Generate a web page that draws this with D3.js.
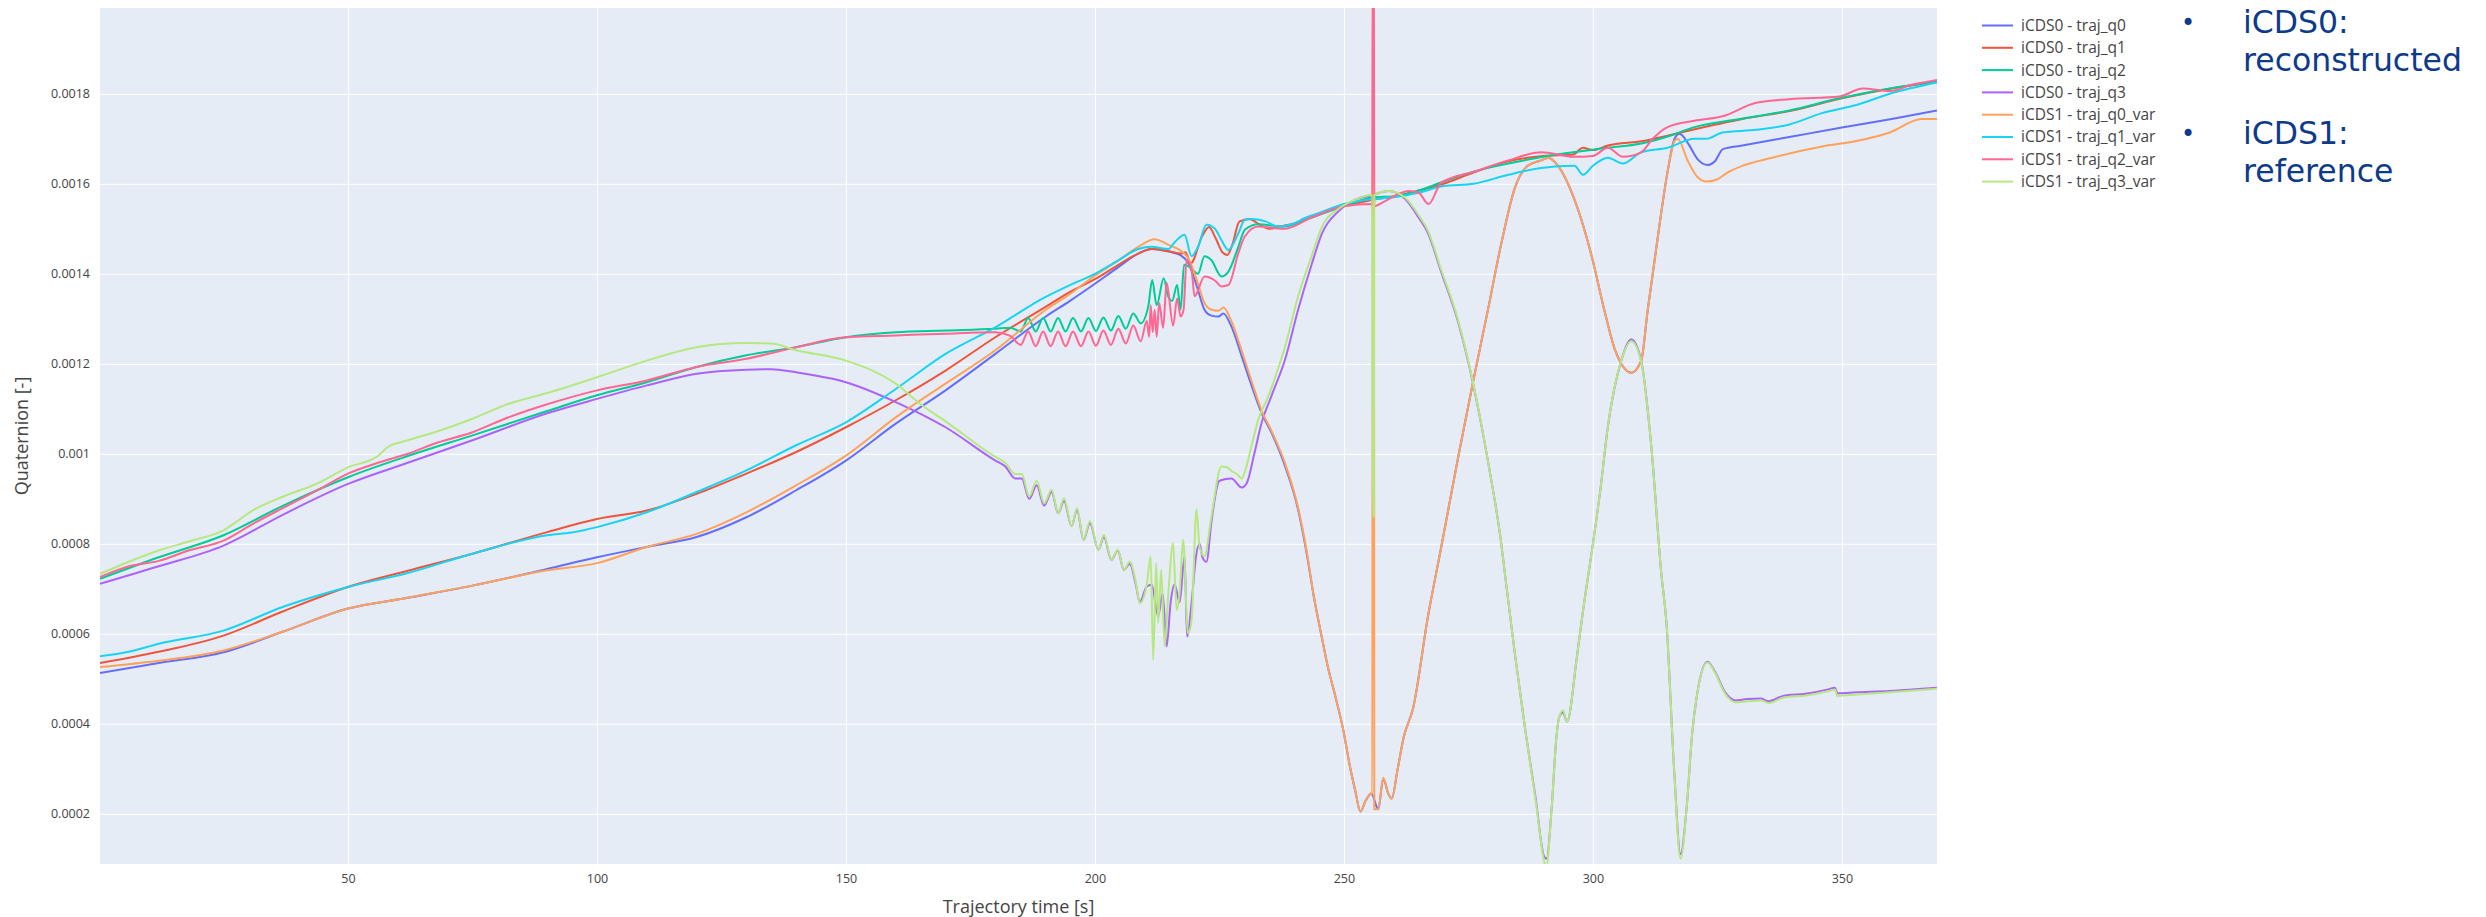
<!DOCTYPE html>
<html>
<head>
<meta charset="utf-8">
<script src="https://cdn.jsdelivr.net/npm/d3@7"></script>
<style>
  body { margin: 0; background: #fff; }
  #viz text { font-family: 'Open Sans', Verdana, sans-serif; }
</style>
</head>
<body>
<div id="viz"></div>
<script>
// [time s, quaternion value x 1e-4]
const q0 = [[0.2,5.13],[12,5.35],[25,5.59],[37,6.05],[50,6.56],[62,6.8],[75,7.07],[90,7.44],[100,7.7],[110,7.93],[120,8.15],[130,8.59],[140,9.19],[150,9.85],[160,10.67],[170,11.41],[180,12.22],[190,13.04],[195,13.4],[200,13.78],[204.7,14.15],[208.7,14.45],[211.4,14.55],[214.7,14.5],[217.4,14.4],[218.7,14.25],[220.7,13.64],[222,13.2],[223.4,13.07],[224.8,13.05],[225.8,13.12],[227.4,12.83],[229.5,12.16],[231.5,11.5],[233.5,10.9],[235.5,10.46],[238.2,9.72],[240.8,8.76],[242.5,7.8],[244,6.8],[245.6,5.9],[246.7,5.3],[248.3,4.6],[249.8,3.9],[251.3,3.0],[252.3,2.5],[253.3,2.05],[254.4,2.3],[255.5,2.45],[256.9,2.1],[257.9,2.78],[258.9,2.45],[259.6,2.34],[260.8,3.0],[262,3.7],[263.9,4.35],[266.9,6.4],[269.5,7.9],[272.9,9.9],[275.9,11.58],[278.9,13.19],[281.6,14.67],[284.3,15.9],[286.9,16.4],[289.6,16.52],[291,16.58],[293,16.4],[296.3,15.65],[299.7,14.42],[302.3,13.19],[304.4,12.32],[305.7,12.0],[307.7,11.8],[309.7,12.07],[311,13.19],[313,14.79],[315,16.27],[316.4,17.0],[317.4,17.11],[319.1,16.9],[321,16.55],[323.1,16.42],[324.5,16.5],[326.1,16.77],[330,16.85],[340,17.05],[350,17.25],[360,17.44],[369.1,17.63]];

const q1 = [[0.2,5.35],[12,5.6],[25,5.96],[37,6.5],[50,7.04],[62,7.4],[75,7.78],[90,8.26],[100,8.55],[110,8.74],[120,9.11],[130,9.56],[140,10.04],[150,10.59],[160,11.19],[170,11.85],[180,12.59],[190,13.26],[195,13.6],[200,13.88],[204.7,14.2],[208.7,14.45],[211.4,14.55],[214.7,14.5],[217.4,14.45],[218.2,14.48],[219.2,14.23],[221.6,14.85],[222.9,15.04],[224.2,14.8],[225.6,14.48],[226.6,14.42],[227.6,14.65],[229,15.16],[231,15.22],[233,15.1],[235,15.0],[237,15.05],[240,15.12],[243.5,15.25],[248,15.45],[252,15.55],[256,15.65],[260,15.72],[265,15.85],[270,16.0],[276,16.25],[283,16.5],[290,16.62],[296,16.65],[298,16.8],[300,16.75],[303,16.85],[310,16.95],[315,17.07],[320,17.2],[330,17.44],[340,17.63],[350,17.9],[360,18.12],[369.1,18.27]];

const q2 = [[0.2,7.22],[12,7.7],[25,8.19],[37,8.85],[50,9.48],[62,9.95],[75,10.41],[90,10.95],[100,11.3],[110,11.59],[120,11.93],[130,12.19],[140,12.37],[150,12.59],[160,12.7],[170,12.74],[180,12.78],[183,12.8],[185.1,12.72],[186.6,13.02],[188.1,12.72],[189.6,13.02],[191.1,12.72],[192.6,13.02],[194.1,12.72],[195.6,13.02],[197.2,12.72],[198.7,13.02],[200.2,12.73],[201.7,13.03],[203.2,12.74],[204.7,13.06],[206.2,12.78],[207.7,13.12],[209.2,12.9],[210.7,13.27],[211.5,13.86],[212.4,13.3],[213.8,13.9],[214.7,13.5],[215.5,13.4],[216.5,13.75],[217.2,13.2],[217.9,14.2],[218.9,14.16],[220.7,14.0],[222,14.39],[223.4,14.3],[225.4,13.94],[226.8,14.05],[228.8,14.6],[230.1,14.98],[232.8,15.1],[238,15.05],[243.5,15.25],[250,15.5],[256,15.7],[260,15.72],[265,15.85],[270,16.05],[276,16.27],[283,16.45],[290,16.6],[296,16.7],[303,16.8],[310,16.9],[315,17.05],[320.4,17.26],[329.5,17.44],[339.5,17.63],[349.5,17.9],[359.6,18.12],[369.1,18.27]];

const q3 = [[0.2,7.11],[12,7.5],[25,7.96],[37,8.65],[50,9.33],[62,9.8],[75,10.3],[90,10.9],[100,11.22],[110,11.52],[120,11.78],[130,11.87],[135,11.88],[140,11.81],[150,11.59],[160,11.15],[170,10.59],[180,9.85],[182,9.72],[184,9.45],[185.3,9.45],[186.8,9.0],[188.3,9.3],[189.8,8.85],[191.3,9.15],[192.6,8.68],[193.8,8.95],[195.3,8.39],[196.4,8.75],[197.7,8.09],[199,8.45],[200.7,7.87],[201.8,8.15],[203.3,7.64],[204.6,7.85],[205.8,7.42],[207,7.55],[208.2,7.1],[209,6.7],[210.4,7.05],[211.4,7.09],[212.7,6.39],[213.6,6.9],[214.4,5.72],[215.2,6.7],[216,7.1],[217,6.7],[218,7.72],[218.5,5.94],[219.5,6.8],[220.3,7.72],[221,8.0],[221.6,7.7],[222.4,7.6],[223.4,8.5],[225,9.4],[227.4,9.45],[229.5,9.25],[230.5,9.35],[232,10.0],[233.5,10.7],[235.5,11.3],[238.2,12.1],[240.8,13.2],[243.5,14.2],[245.6,14.9],[249,15.4],[252.3,15.65],[255.7,15.75],[259,15.84],[262.4,15.65],[265,15.25],[266.9,14.9],[269.5,14.05],[272.9,12.94],[275.9,11.58],[278.9,9.85],[281.6,8.0],[282.5,7.18],[284.4,5.5],[286.5,3.8],[288.5,2.35],[290.2,1.05],[290.7,1.0],[291.7,2.1],[292.7,3.74],[293.3,4.17],[294,4.25],[294.8,4.05],[296.8,5.5],[298,6.5],[300,8.0],[301.5,9.2],[303,10.6],[305.7,12.07],[307.7,12.54],[309.7,12.07],[311.7,10.2],[313.7,7.38],[314.8,6.2],[316.3,3.0],[317.6,1.1],[318.9,2.24],[319.9,3.74],[320.9,4.64],[323,5.38],[324.5,5.16],[326.5,4.71],[328.6,4.52],[331,4.55],[333.7,4.56],[335.2,4.5],[338.2,4.62],[342.8,4.67],[347.5,4.77],[348.6,4.8],[349.1,4.68],[352.9,4.7],[359.6,4.73],[369.1,4.8]];

const q0Var = [[0.2,5.26],[12,5.4],[25,5.63],[37,6.05],[50,6.56],[62,6.8],[75,7.07],[90,7.41],[100,7.57],[110,7.93],[120,8.22],[130,8.7],[140,9.3],[150,9.96],[160,10.81],[170,11.56],[180,12.3],[190,13.19],[195,13.55],[200,13.96],[204.7,14.3],[208.7,14.6],[212,14.77],[214.7,14.65],[217.4,14.5],[218.7,14.35],[220.7,13.78],[222,13.35],[223.4,13.2],[224.8,13.18],[225.8,13.25],[227.4,12.95],[229.5,12.28],[231.5,11.6],[233.5,10.95],[235.5,10.5],[238.2,9.78],[240.8,8.8],[242.5,7.85],[244,6.8],[245.6,5.9],[246.7,5.3],[248.3,4.6],[249.8,3.9],[251.3,3.0],[252.3,2.5],[253.3,2.05],[254.4,2.3],[255.5,2.45],[255.7,2.42],[255.8,25],[256,25],[256.1,2.1],[256.9,2.1],[257.9,2.8],[258.9,2.45],[259.6,2.34],[260.8,3.0],[262,3.7],[263.9,4.35],[266.9,6.4],[269.5,7.9],[272.9,9.9],[275.9,11.58],[278.9,13.19],[281.6,14.67],[284.3,15.9],[286.9,16.4],[289.6,16.52],[291,16.58],[293,16.4],[296.3,15.65],[299.7,14.42],[302.3,13.19],[304.4,12.32],[305.7,12.0],[307.7,11.8],[309.7,12.07],[311,13.19],[313,14.79],[315,16.27],[316.4,16.95],[317,17.0],[319.1,16.5],[321,16.15],[322.8,16.05],[324.8,16.09],[327,16.25],[330,16.4],[336,16.58],[346,16.83],[352.9,16.95],[359.6,17.14],[366,17.44],[369.1,17.44]];

const q1Var = [[0.2,5.5],[6,5.6],[12,5.78],[25,6.07],[37,6.6],[50,7.04],[62,7.35],[75,7.78],[90,8.19],[95,8.25],[100,8.37],[110,8.7],[120,9.15],[130,9.63],[140,10.19],[150,10.7],[160,11.44],[170,12.22],[180,12.81],[190,13.48],[195,13.75],[200,14.0],[204.7,14.3],[208.7,14.55],[211.4,14.6],[214.7,14.55],[216,14.7],[218,14.87],[219.4,14.39],[220.7,14.6],[222.4,15.09],[224.1,15.0],[225.4,14.75],[226.8,14.53],[228.8,14.9],[230.1,15.2],[231.5,15.22],[234.1,15.17],[236.8,15.05],[239.5,15.1],[242.2,15.24],[245,15.35],[250,15.55],[255,15.65],[260,15.7],[265,15.8],[270,15.95],[276,16.0],[283,16.2],[289.6,16.35],[296.3,16.4],[298,16.2],[300,16.4],[303,16.58],[306,16.45],[309.7,16.7],[315,16.8],[320.4,17.0],[322.8,17.0],[326,17.14],[332.8,17.2],[339.5,17.32],[346,17.57],[352.9,17.75],[359.6,18.0],[369.1,18.25]];

const q2Var = [[0.2,7.26],[6,7.5],[12,7.62],[18,7.85],[25,8.07],[31,8.45],[37,8.8],[44,9.2],[50,9.56],[56,9.8],[62,10.0],[68,10.25],[75,10.48],[82,10.8],[90,11.1],[100,11.41],[110,11.63],[120,11.93],[130,12.11],[140,12.37],[150,12.59],[160,12.63],[170,12.67],[180,12.7],[183,12.62],[185.1,12.42],[186.6,12.72],[188.1,12.39],[189.6,12.72],[191.1,12.39],[192.6,12.72],[194.1,12.39],[195.6,12.72],[197.2,12.39],[198.7,12.72],[200.2,12.4],[201.7,12.74],[203.2,12.42],[204.7,12.78],[206.2,12.45],[207.7,12.85],[209.2,12.5],[210.4,12.95],[210.9,12.6],[211.2,13.3],[211.6,12.7],[212,13.2],[212.4,12.6],[212.9,13.35],[213.7,12.8],[214.4,13.8],[215.7,12.85],[216.5,13.45],[217.2,13.05],[217.8,13.2],[218.4,14.3],[219.4,14.1],[220,13.5],[222,13.94],[224.1,13.85],[225.4,13.72],[226.8,13.75],[228.8,14.46],[230.1,14.83],[232.8,15.05],[238,15.0],[243.5,15.25],[250,15.5],[255.5,15.55],[255.7,15.52],[255.8,21],[256,21],[256.1,15.5],[258,15.6],[263,15.84],[265,15.8],[267,15.55],[269.5,16.02],[276.2,16.27],[283,16.52],[289.6,16.7],[296.3,16.6],[300,16.62],[303,16.8],[306,16.6],[309.7,16.7],[312,17.0],[315,17.26],[320.4,17.4],[326,17.5],[332.8,17.8],[339.5,17.88],[349.5,17.94],[354.2,18.12],[359.6,18.06],[364,18.2],[369.1,18.31]];

const q3Var = [[0.2,7.33],[6,7.6],[12,7.85],[18,8.05],[25,8.3],[31,8.75],[37,9.05],[44,9.35],[50,9.7],[56,9.95],[58,10.15],[62,10.3],[68,10.5],[75,10.78],[82,11.1],[90,11.35],[100,11.7],[110,12.07],[120,12.37],[130,12.46],[135,12.45],[140,12.3],[150,12.07],[160,11.56],[165,11.1],[170,10.72],[180,9.93],[182,9.8],[184,9.55],[185.3,9.55],[186.8,9.05],[188.3,9.4],[189.8,8.9],[191.3,9.2],[192.6,8.68],[193.8,9.01],[195.3,8.39],[196.4,8.79],[197.7,8.09],[199,8.5],[200.7,7.87],[201.8,8.2],[203.3,7.64],[204.6,7.87],[205.8,7.42],[207,7.6],[208.2,7.15],[209,6.68],[210.4,7.09],[211.2,7.72],[211.7,5.42],[212.3,7.57],[212.7,6.24],[213.3,7.42],[214,5.72],[214.7,6.83],[215.7,8.01],[216.4,6.53],[217,6.9],[217.7,8.09],[218.7,6.01],[219.4,6.3],[220.4,8.76],[221,7.94],[222,7.72],[223.4,8.61],[225.4,9.72],[226.5,9.7],[227.4,9.62],[228.5,9.55],[229.5,9.45],[230.1,9.6],[231.5,10.2],[232.8,10.76],[234.8,11.27],[236.5,11.8],[238.2,12.39],[240.8,13.5],[243.5,14.39],[245.6,15.05],[249,15.45],[252.3,15.65],[255.5,15.75],[255.7,15.75],[255.8,8.6],[256,8.6],[256.1,15.75],[259,15.84],[262.4,15.68],[265,15.3],[266.9,14.95],[269.5,14.1],[272.9,12.98],[275.9,11.6],[278.9,9.85],[281.6,8.0],[282.5,7.18],[284.4,5.5],[286.5,3.8],[288.5,2.3],[290.2,0.95],[290.6,0.8],[291.7,2.1],[292.7,3.74],[293.3,4.17],[294,4.3],[294.8,4.05],[296.8,5.5],[298,6.5],[300,8.0],[301.5,9.2],[303,10.6],[305.7,12.07],[307.7,12.5],[309.7,12.05],[311.7,10.2],[313.7,7.38],[314.8,6.2],[316.3,3.0],[317.6,1.0],[318.9,2.24],[319.9,3.74],[320.9,4.64],[323,5.36],[324.5,5.14],[326.5,4.68],[328.6,4.48],[331,4.5],[333.7,4.52],[335.2,4.46],[338.2,4.58],[342.8,4.63],[347.5,4.73],[348.6,4.76],[349.1,4.62],[352.9,4.65],[359.6,4.7],[369.1,4.78]];

const seriesData = [q0, q1, q2, q3, q0Var, q1Var, q2Var, q3Var];
const seriesNames = ['iCDS0 - traj_q0', 'iCDS0 - traj_q1', 'iCDS0 - traj_q2', 'iCDS0 - traj_q3',
  'iCDS1 - traj_q0_var', 'iCDS1 - traj_q1_var', 'iCDS1 - traj_q2_var', 'iCDS1 - traj_q3_var'];
const yTickValues = [0.0002, 0.0004, 0.0006, 0.0008, 0.001, 0.0012, 0.0014, 0.0016, 0.0018];
const xTickValues = [50, 100, 150, 200, 250, 300, 350];
const notes = [['iCDS0:', 'reconstructed'], ['iCDS1:', 'reference']];

// plotly default colorway
const colors = ['#636efa', '#EF553B', '#00cc96', '#ab63fa', '#FFA15A', '#19d3f3', '#FF6692', '#B6E880'];

const w = 2486;
const h = 917;
const pLeft = 100, pRight = 1937, pTop = 8, pBottom = 864;

var svg = d3.select('#viz').
append('svg').
attr('width', w).
attr('height', h);

const allPts = seriesData.flat();
const xScale = d3.scaleLinear().
domain(d3.extent(allPts, d => d[0])).
range([pLeft, pRight]);

const yScale = d3.scaleLinear().
domain([0.0000884, 0.0019907]).
range([pBottom, pTop]);

svg.append('rect').
attr('x', pLeft).
attr('y', pTop).
attr('width', pRight - pLeft).
attr('height', pBottom - pTop).
attr('fill', '#E5ECF6');

//grid
svg.append('g').
attr('transform', 'translate(0,' + pBottom + ')').
call(d3.axisBottom(xScale).tickValues(xTickValues).tickSize(-(pBottom - pTop)).tickFormat('')).
call(g => g.select('.domain').remove()).
selectAll('line').attr('stroke', '#fff').attr('stroke-width', 1);

svg.append('g').
attr('transform', 'translate(' + pLeft + ',0)').
call(d3.axisLeft(yScale).tickValues(yTickValues).tickSize(-(pRight - pLeft)).tickFormat('')).
call(g => g.select('.domain').remove()).
selectAll('line').attr('stroke', '#fff').attr('stroke-width', 1);

//lines
svg.append('clipPath').
attr('id', 'plotclip').
append('rect').
attr('x', pLeft).
attr('y', pTop).
attr('width', pRight - pLeft).
attr('height', pBottom - pTop);

const line = d3.line().
x(d => xScale(d[0])).
y(d => yScale(d[1] * 1e-4)).
curve(d3.curveMonotoneX);

svg.append('g').
attr('clip-path', 'url(#plotclip)').
selectAll('path').
data(seriesData).
enter().
append('path').
attr('d', d => line(d)).
attr('fill', 'none').
attr('stroke', (d, i) => colors[i]).
attr('stroke-width', 2).
attr('stroke-linejoin', 'round');

//axes
const xAxis = svg.append('g').
attr('transform', 'translate(0,' + pBottom + ')').
call(d3.axisBottom(xScale).tickValues(xTickValues).tickSize(0).tickPadding(10).tickFormat(d3.format('d')));
xAxis.select('.domain').remove();
xAxis.selectAll('text').style('font-size', '12.5px').attr('fill', '#444');

const yAxis = svg.append('g').
attr('transform', 'translate(' + pLeft + ',0)').
call(d3.axisLeft(yScale).tickValues(yTickValues).tickSize(0).tickPadding(10).tickFormat(d => String(d)));
yAxis.select('.domain').remove();
yAxis.selectAll('text').style('font-size', '12.5px').attr('fill', '#444');

svg.append('text').
text('Trajectory time [s]').
attr('x', (pLeft + pRight) / 2).
attr('y', 913).
attr('text-anchor', 'middle').
style('font-size', '18px').
attr('fill', '#444');

svg.append('text').
text('Quaternion [-]').
attr('transform', 'translate(28,' + (pTop + pBottom) / 2 + ') rotate(-90)').
attr('text-anchor', 'middle').
style('font-size', '18px').
attr('fill', '#444');

//legend
let legend = svg.append('g').
attr('transform', 'translate(1982,25.5)');

let item = legend.selectAll('g').
data(seriesNames).
enter().
append('g').
attr('transform', (d, i) => 'translate(0,' + i * 22.3 + ')');

item.append('line').
attr('x1', 0).
attr('x2', 31).
attr('stroke', (d, i) => colors[i]).
attr('stroke-width', 2);

item.append('text').
text(d => d).
attr('x', 39).
attr('dy', '0.35em').
style('font-size', '15.5px').
attr('fill', '#444');

//notes on the right
notes.forEach(function (n, i) {
  let g = svg.append('g').
  attr('transform', 'translate(0,' + i * 111 + ')');
  g.append('text').
  text('\u2022').
  attr('x', 2181).
  attr('y', 31).
  style('font-family', 'DejaVu Sans').
  style('font-size', '24px').
  attr('fill', '#0e3a8a');
  g.append('text').
  text(n[0]).
  attr('x', 2243).
  attr('y', 33).
  style('font-family', 'DejaVu Sans').
  style('font-size', '31.5px').
  attr('fill', '#0e3a8a');
  g.append('text').
  text(n[1]).
  attr('x', 2243).
  attr('y', 71).
  style('font-family', 'DejaVu Sans').
  style('font-size', '31.5px').
  attr('fill', '#0e3a8a');
});
</script>
</body>
</html>
